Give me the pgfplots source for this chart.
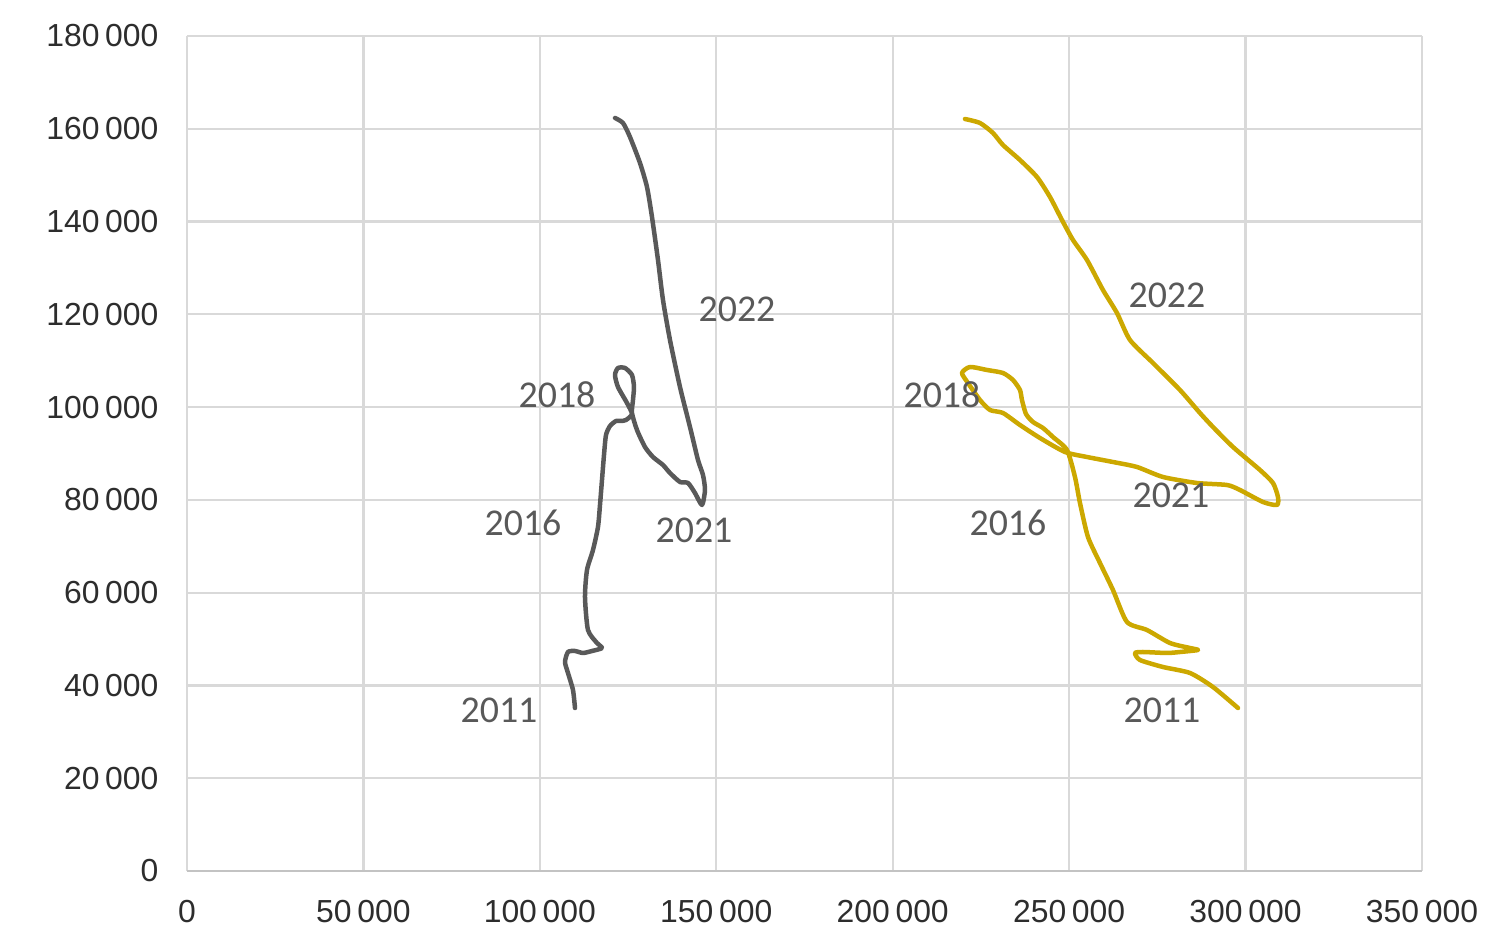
\documentclass[border=0pt]{standalone}
\usepackage{pgfplots}
\pgfplotsset{compat=1.18}
\usepackage{fontspec}
\setmainfont{Liberation Sans}
\newfontfamily\carlito{Carlito}
\definecolor{gridc}{RGB}{217,217,217}
\definecolor{axc}{RGB}{195,195,195}
\definecolor{ticktxt}{RGB}{45,45,45}
\definecolor{lbl}{RGB}{89,89,89}
\definecolor{gold}{RGB}{204,168,0}
\definecolor{dgray}{RGB}{89,89,89}
\begin{document}
\begin{tikzpicture}
\useasboundingbox (-187bp,-57bp) rectangle (1305bp,871bp);
\begin{axis}[
  at={(0,0)}, anchor=south west,
  scale only axis, width=1235bp, height=835bp,
  xmin=0, xmax=350000, ymin=0, ymax=180000,
  xtick={0,50000,...,350000}, ytick={0,20000,...,180000},
  scaled ticks=false,
  grid=major, major grid style={draw=gridc, line width=2.2bp},
  axis line style={draw=none},
  major tick length=0pt,
  tick label style={font=\fontsize{32}{32}\selectfont, text=ticktxt},
  xticklabel style={anchor=north, yshift=-26bp},
  yticklabel style={anchor=east, xshift=-25bp},
  extra y ticks={0}, extra y tick labels={},
  extra y tick style={major grid style={draw=axc, line width=2.8bp}},
  /pgf/number format/.cd, assume math mode=true, fixed, 1000 sep={\hspace{0.18em}},
  /pgfplots/.cd,
]
\addplot[dgray, line width=4.5bp, line join=round, line cap=round, smooth, tension=0.4] coordinates {
(109959,35138) (109392,39018) (107975,42683) (107125,45054) (107975,47210)
(109959,47425) (112226,46994) (114777,47425) (117611,48072) (116194,49150)
(113643,51952) (112793,59066) (113360,64887) (115060,69198) (116477,74156)
(117044,78899) (117611,84288) (118178,89677) (118745,93989) (119878,95929)
(121579,97007) (122996,97007) (124413,97222) (126113,98515) (124696,100887)
(122145,104336) (121295,106923) (122145,108432) (124129,108432) (126113,106923)
(126680,104336) (126396,101533) (126113,98731) (127530,95066) (129797,91402)
(132064,89246) (134898,87521) (136882,85797) (139716,83857) (141983,83641)
(143967,81485) (145951,78899) (146801,82132) (146234,85366) (144817,88599)
(142550,95713) (139716,104336) (136882,114468) (134898,123090) (133481,131713)
(131781,140983) (130364,147450) (128380,152624) (125546,158228) (123562,161246)
(121295,162324)
};
\addplot[gold, line width=4.5bp, line join=round, line cap=round, smooth, tension=0.4] coordinates {
(297853,35138) (290768,39665) (284250,42683) (276598,43976) (270080,45485)
(268663,46994) (270930,47210) (277732,46994) (281416,47210) (286517,47641)
(284250,48072) (278582,49150) (272064,51952) (266396,53677) (262428,60575)
(258744,66396) (255343,72000) (253076,79330) (251659,84935) (249392,90755)
(245424,93557) (242590,95498) (239756,96791) (237773,98515) (236639,101533)
(236072,103689) (234088,105845) (231254,107354) (226720,108001) (221902,108647)
(219635,107354) (221335,105198) (224736,101533) (227570,99378) (231254,98731)
(236072,96144) (241740,93342) (248825,90324) (255060,89246) (262428,88168)
(269230,87090) (276598,84935) (286234,83641) (294736,83210) (298420,82132)
(304938,79545) (308906,78899) (309189,80623) (307772,83641) (304088,86444)
(296436,91402) (290768,95713) (287084,98731) (281416,103689) (273764,109510)
(267246,114468) (263562,120288) (259594,125246) (255060,131713) (251092,136025)
(247975,140336) (244574,145294) (240890,149606) (236072,153270) (231254,156504)
(228420,159091) (224736,161246) (220485,162109)
};
\begin{scope}[every node/.style={font=\carlito\fontsize{38}{38}\selectfont, text=lbl}]
\node at (axis cs:155870,121150) {2022};
\node at (axis cs:104858,102611) {2018};
\node at (axis cs:95222,75018) {2016};
\node at (axis cs:143684,73509) {2021};
\node at (axis cs:88421,34707) {2011};
\node at (axis cs:277732,124168) {2022};
\node at (axis cs:213967,102611) {2018};
\node at (axis cs:232671,75018) {2016};
\node at (axis cs:278866,81054) {2021};
\node at (axis cs:276315,34707) {2011};
\end{scope}
\end{axis}
\end{tikzpicture}
\end{document}
